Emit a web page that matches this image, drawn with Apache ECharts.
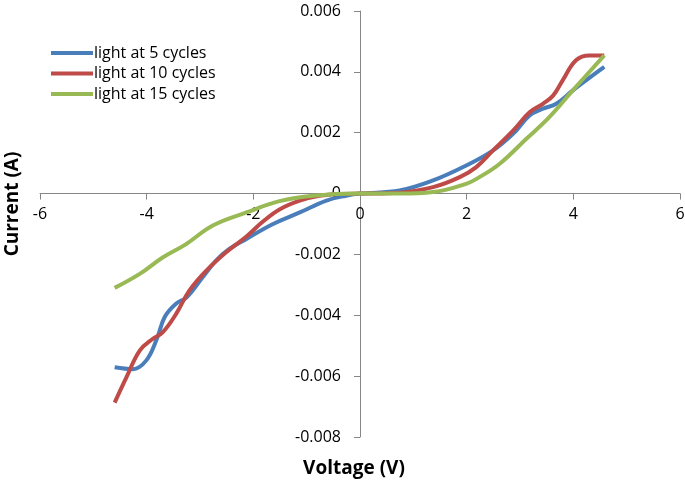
<!DOCTYPE html>
<html><head><meta charset="utf-8">
<script src="https://cdn.jsdelivr.net/npm/echarts@6/dist/echarts.min.js"></script>
<style>html,body{margin:0;padding:0;background:#fff}#c{width:685px;height:482px}</style>
</head><body><div id="c"></div>
<script>
const seriesNames = ['light at 5 cycles', 'light at 10 cycles', 'light at 15 cycles'];
const xTicks = [-6, -4, -2, 0, 2, 4, 6];
const yTicks = [-0.008, -0.006, -0.004, -0.002, 0, 0.002, 0.004, 0.006];

const v5 = [-4.6, -4.26, -4.01, -3.81, -3.66, -3.45, -3.25, -2.95, -2.70, -2.45, -2.13, -1.63, -1.13, -0.63, -0.26, 0, 0.74, 1.37, 1.99, 2.49, 2.87, 3.18, 3.43, 3.68, 3.99, 4.58];
const i5 = [-0.00571, -0.00577, -0.00549, -0.00478, -0.00405, -0.00362, -0.00341, -0.00275, -0.0022, -0.00182, -0.00149, -0.001, -0.00062, -0.00023, -0.00007, 0, 0.0001, 0.00043, 0.00092, 0.00141, 0.00196, 0.00257, 0.00279, 0.00295, 0.00339, 0.00416];

const v10 = [-4.6, -4.38, -4.13, -3.89, -3.70, -3.45, -3.2, -2.88, -2.51, -2.13, -1.82, -1.51, -1.13, -0.76, -0.35, 0, 0.74, 1.37, 1.87, 2.18, 2.49, 2.87, 3.18, 3.43, 3.62, 3.80, 4.05, 4.30, 4.58];
const i10 = [-0.00687, -0.00604, -0.00516, -0.00478, -0.00456, -0.00396, -0.00319, -0.00253, -0.00193, -0.00141, -0.00092, -0.00052, -0.00023, -0.00007, -0.00001, 0, 0.00003, 0.00021, 0.00054, 0.00087, 0.00141, 0.00207, 0.00267, 0.00295, 0.00322, 0.00372, 0.00438, 0.00454, 0.00454];

const v15 = [-4.6, -4.13, -3.70, -3.26, -2.76, -2.13, -1.51, -0.88, 0, 0.74, 1.37, 1.99, 2.24, 2.62, 3.12, 3.55, 3.99, 4.58];
const i15 = [-0.0031, -0.00264, -0.0021, -0.00166, -0.00105, -0.00062, -0.00025, -0.00007, 0, 0, 0.00005, 0.00032, 0.00054, 0.00098, 0.0018, 0.00251, 0.00339, 0.00454];

const colors = ['#4A7EBB', '#BE4B48', '#98B954'];
const pairs = (xs, ys) => xs.map((x, k) => [x, ys[k]]);
const datasets = [pairs(v5, i5), pairs(v10, i10), pairs(v15, i15)];

const FONT = 'Open Sans';
const G = {left: 40, right: 5, top: 11, bottom: 45};
const W = 685, H = 482;
const gw = W - G.left - G.right, gh = H - G.top - G.bottom;
const xMin = xTicks[0], xMax = xTicks[xTicks.length - 1];
const yMin = yTicks[0], yMax = yTicks[yTicks.length - 1];
// shift axes from grid edges to the zero lines
const xAxisOffset = -gh * (0 - yMin) / (yMax - yMin);
const yAxisOffset = -gw * (0 - xMin) / (xMax - xMin);

const chart = echarts.init(document.getElementById('c'), null, {renderer: 'canvas'});
chart.setOption({
  animation: false,
  backgroundColor: '#fff',
  grid: Object.assign({containLabel: false, outerBoundsMode: 'none'}, G),
  legend: {
    left: 46, top: 40, orient: 'vertical', itemGap: 4.5,
    itemWidth: 42, itemHeight: 18,
    data: seriesNames.map((n, k) => ({name: n, icon: 'path://M0,0 L42,0 L42,4 L0,4 Z', itemStyle: {color: colors[k]}})),
    textStyle: {fontFamily: FONT, fontSize: 16, color: '#000', padding: [0, 0, 0, -4]}
  },
  xAxis: {
    type: 'value', min: xMin, max: xMax, interval: 2, position: 'bottom', offset: xAxisOffset,
    axisLine: {onZero: false, lineStyle: {color: '#868686', width: 1}},
    axisTick: {show: true, length: 6, lineStyle: {color: '#868686'}},
    axisLabel: {fontFamily: FONT, fontSize: 16, color: '#000', margin: 13},
    splitLine: {show: false}
  },
  yAxis: {
    type: 'value', min: yMin, max: yMax, interval: 0.002, position: 'left', offset: yAxisOffset,
    axisLine: {show: true, onZero: false, lineStyle: {color: '#868686', width: 1}},
    axisTick: {show: true, length: 6, lineStyle: {color: '#868686'}},
    axisLabel: {fontFamily: FONT, fontSize: 16, color: '#000', margin: 19,
      formatter: v => (Math.abs(v) < 1e-12 ? '0' : v.toFixed(3))},
    splitLine: {show: false}
  },
  graphic: [
    {type: 'text', x: 354, y: 469, style: {text: 'Voltage (V)', fontFamily: FONT, fontSize: 19, fontWeight: 'bold', fill: '#000', align: 'center', verticalAlign: 'middle'}},
    {type: 'text', x: 13, y: 204, rotation: Math.PI / 2, style: {text: 'Current (A)', fontFamily: FONT, fontSize: 19, fontWeight: 'bold', fill: '#000', align: 'center', verticalAlign: 'middle'}}
  ],
  series: datasets.map((d, k) => ({
    name: seriesNames[k], type: 'line', data: d, smooth: 0.4, showSymbol: false,
    lineStyle: {width: 4, color: colors[k]}, itemStyle: {color: colors[k]}
  }))
});
</script></body></html>
